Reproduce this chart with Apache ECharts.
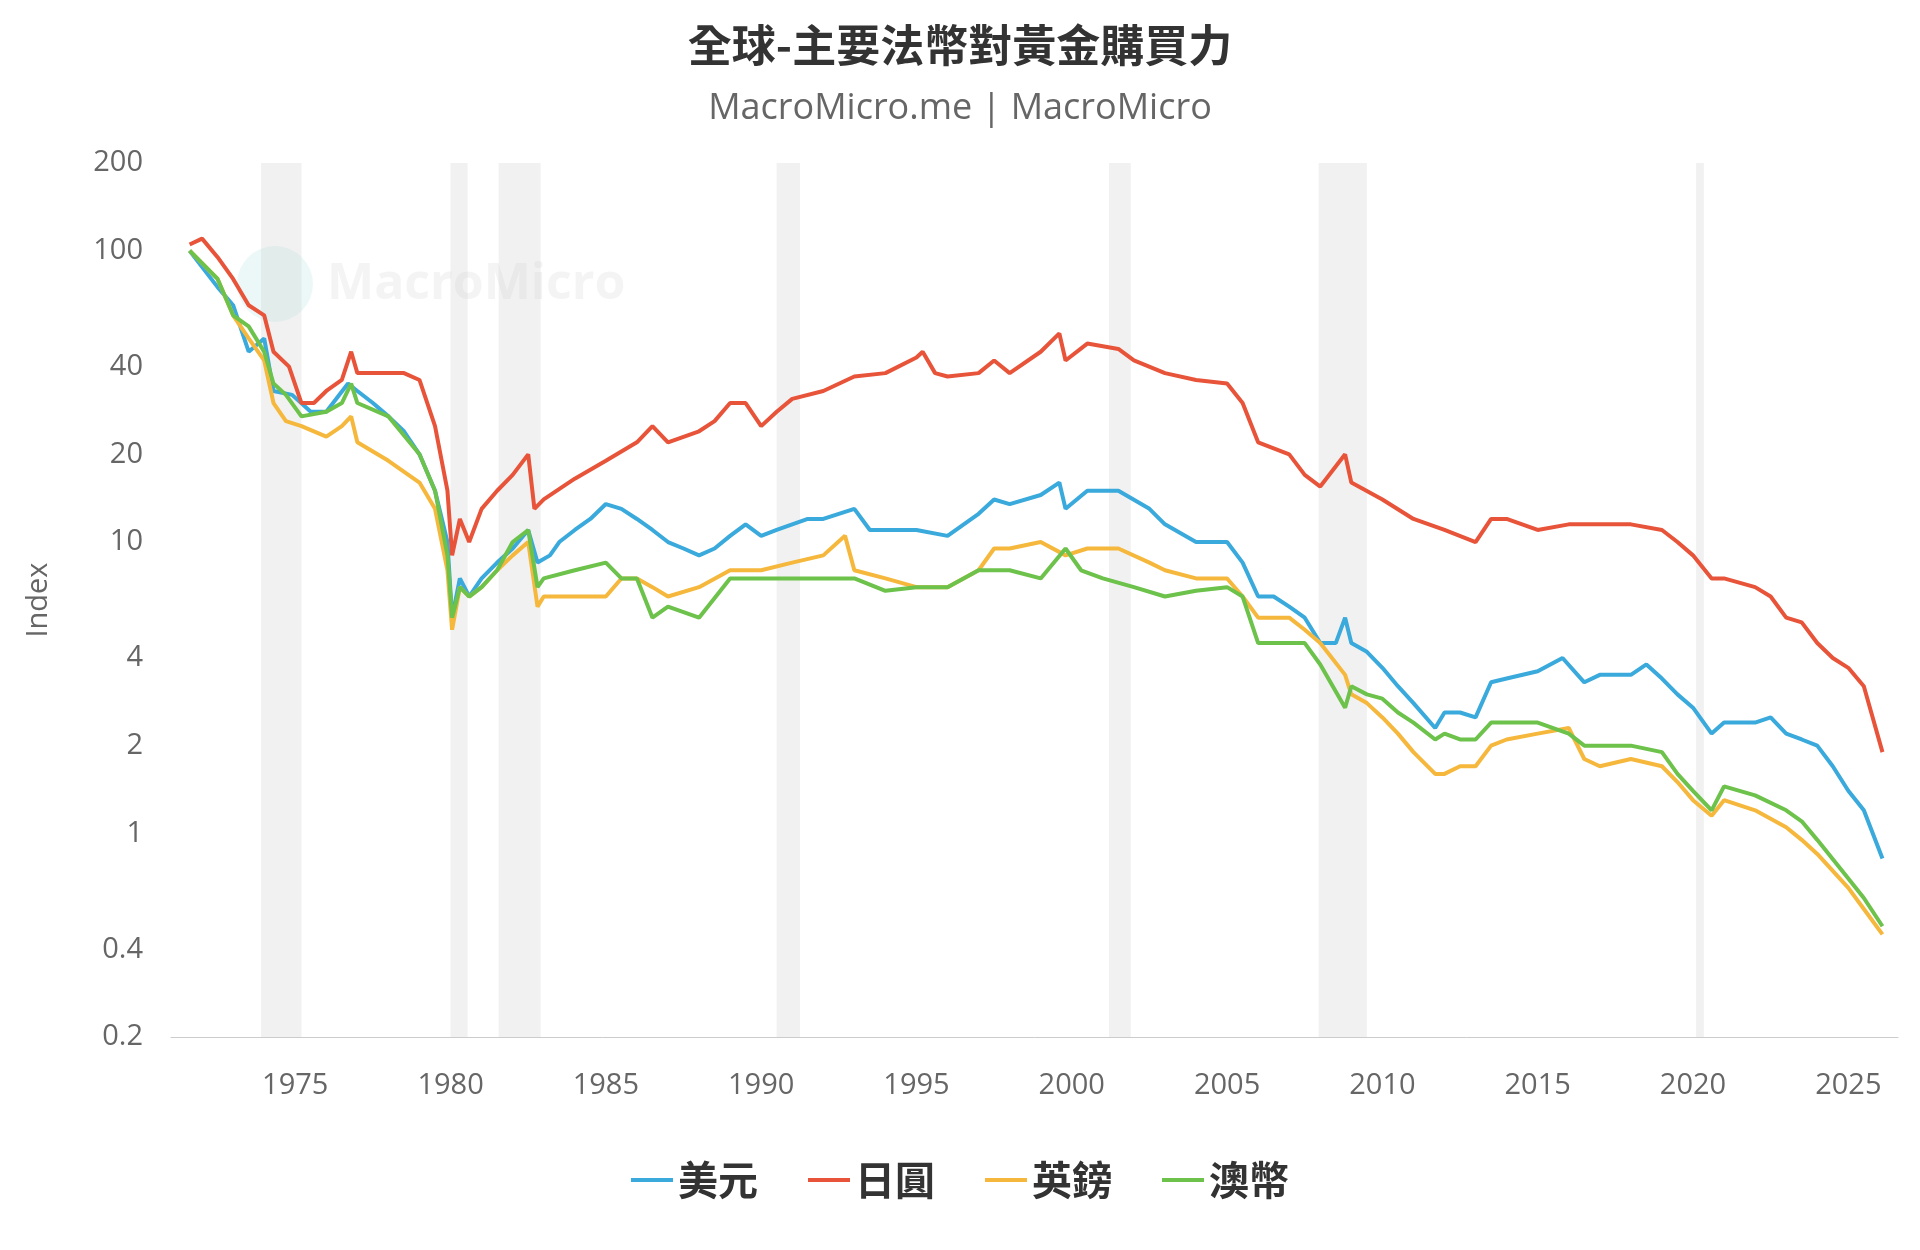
<!DOCTYPE html>
<html><head><meta charset="utf-8">
<script src="https://cdn.jsdelivr.net/npm/echarts@6/dist/echarts.min.js"></script>
<style>html,body{margin:0;padding:0;background:#fff}#c{width:1920px;height:1250px}</style>
</head><body><div id="c"></div>
<script>
const usd=[[1971.6,100],[1972.5,75],[1973.0,65],[1973.5,45],[1974.0,50],[1974.3,33],[1974.9,32],[1975.5,28],[1976.0,28],[1976.7,35],[1977.0,33],[1977.5,30],[1978.0,27],[1978.5,24],[1979.0,20],[1979.5,15],[1979.9,10],[1980.05,5.5],[1980.3,7.5],[1980.6,6.5],[1981.0,7.5],[1981.5,8.5],[1982.0,9.5],[1982.5,11],[1982.8,8.5],[1983.2,9],[1983.5,10],[1984.0,11],[1984.5,12],[1985.0,13.5],[1985.5,13],[1986.0,12],[1986.5,11],[1987.0,10],[1987.5,9.5],[1988.0,9],[1988.5,9.5],[1989.0,10.5],[1989.5,11.5],[1990.0,10.5],[1990.5,11],[1991.0,11.5],[1991.5,12],[1992.0,12],[1992.5,12.5],[1993.0,13],[1993.5,11],[1994.0,11],[1995,11],[1996,10.5],[1997,12.5],[1997.5,14],[1998,13.5],[1999,14.5],[1999.6,16],[1999.8,13],[2000.5,15],[2001.5,15],[2002.5,13],[2003,11.5],[2004,10],[2005,10],[2005.5,8.5],[2006,6.5],[2006.5,6.5],[2007,6],[2007.5,5.5],[2008,4.5],[2008.5,4.5],[2008.8,5.5],[2009,4.5],[2009.5,4.2],[2010,3.7],[2010.5,3.2],[2011,2.8],[2011.7,2.3],[2012,2.6],[2012.5,2.6],[2013,2.5],[2013.5,3.3],[2014,3.4],[2015,3.6],[2015.8,4],[2016.5,3.3],[2017,3.5],[2018,3.5],[2018.5,3.8],[2019,3.4],[2019.5,3.0],[2020,2.7],[2020.6,2.2],[2021,2.4],[2022,2.4],[2022.5,2.5],[2023,2.2],[2023.5,2.1],[2024,2.0],[2024.5,1.7],[2025,1.4],[2025.5,1.2],[2026.1,0.82]];
const jpy=[[1971.6,105],[1972,110],[1972.5,95],[1973,80],[1973.5,65],[1974,60],[1974.3,45],[1974.8,40],[1975.2,30],[1975.6,30],[1976,33],[1976.5,36],[1976.8,45],[1977,38],[1978,38],[1978.5,38],[1979,36],[1979.5,25],[1979.9,15],[1980.05,9],[1980.3,12],[1980.6,10],[1981,13],[1981.5,15],[1982,17],[1982.5,20],[1982.7,13],[1983,14],[1984,16.5],[1985,19],[1986,22],[1986.5,25],[1987,22],[1988,24],[1988.5,26],[1989,30],[1989.5,30],[1990,25],[1990.5,28],[1991,31],[1992,33],[1993,37],[1994,38],[1995,43],[1995.2,45],[1995.6,38],[1996,37],[1997,38],[1997.5,42],[1998,38],[1999,45],[1999.6,52],[1999.8,42],[2000.5,48],[2001.5,46],[2002,42],[2003,38],[2004,36],[2005,35],[2005.5,30],[2006,22],[2007,20],[2007.5,17],[2008,15.5],[2008.8,20],[2009,16],[2010,14],[2011,12],[2012,11],[2013,10],[2013.5,12],[2014,12],[2015,11],[2016,11.5],[2017,11.5],[2018,11.5],[2019,11],[2019.5,10],[2020,9],[2020.6,7.5],[2021,7.5],[2022,7],[2022.5,6.5],[2023,5.5],[2023.5,5.3],[2024,4.5],[2024.5,4],[2025,3.7],[2025.5,3.2],[2026.1,1.9]];
const gbp=[[1971.6,100],[1972.5,80],[1973,60],[1973.5,50],[1974,42],[1974.3,30],[1974.7,26],[1975.2,25],[1976,23],[1976.5,25],[1976.8,27],[1977,22],[1978,19],[1979,16],[1979.5,13],[1979.9,8],[1980.05,5],[1980.3,7],[1980.6,6.5],[1981,7],[1981.5,8],[1982,9],[1982.5,10],[1982.8,6],[1983,6.5],[1984,6.5],[1985,6.5],[1985.5,7.5],[1986,7.5],[1986.5,7],[1987,6.5],[1988,7],[1989,8],[1990,8],[1991,8.5],[1992,9],[1992.7,10.5],[1993,8],[1994,7.5],[1995,7],[1996,7],[1997,8],[1997.5,9.5],[1998,9.5],[1999,10],[1999.8,9],[2000.5,9.5],[2001.5,9.5],[2002.5,8.5],[2003,8],[2004,7.5],[2005,7.5],[2005.5,6.5],[2006,5.5],[2007,5.5],[2007.5,5],[2008,4.5],[2008.8,3.5],[2009,3],[2009.5,2.8],[2010,2.5],[2010.5,2.2],[2011,1.9],[2011.7,1.6],[2012,1.6],[2012.5,1.7],[2013,1.7],[2013.5,2.0],[2014,2.1],[2015,2.2],[2016,2.3],[2016.5,1.8],[2017,1.7],[2018,1.8],[2019,1.7],[2019.5,1.5],[2020,1.3],[2020.6,1.15],[2021,1.3],[2022,1.2],[2023,1.05],[2023.5,0.95],[2024,0.85],[2025,0.65],[2025.5,0.55],[2026.1,0.45]];
const aud=[[1971.6,100],[1972.5,80],[1973,60],[1973.5,55],[1974,45],[1974.3,35],[1974.7,32],[1975.2,27],[1976,28],[1976.5,30],[1976.8,35],[1977,30],[1978,27],[1979,20],[1979.5,15],[1979.9,9],[1980.05,5.5],[1980.3,7],[1980.6,6.5],[1981,7],[1981.5,8],[1982,10],[1982.5,11],[1982.8,7],[1983,7.5],[1984,8],[1985,8.5],[1985.5,7.5],[1986,7.5],[1986.5,5.5],[1987,6],[1988,5.5],[1989,7.5],[1990,7.5],[1991,7.5],[1992,7.5],[1993,7.5],[1994,6.8],[1995,7],[1996,7],[1997,8],[1998,8],[1999,7.5],[1999.8,9.5],[2000.3,8],[2001,7.5],[2002,7],[2003,6.5],[2004,6.8],[2005,7],[2005.5,6.5],[2006,4.5],[2007,4.5],[2007.5,4.5],[2008,3.8],[2008.8,2.7],[2009,3.2],[2009.5,3],[2010,2.9],[2010.5,2.6],[2011,2.4],[2011.7,2.1],[2012,2.2],[2012.5,2.1],[2013,2.1],[2013.5,2.4],[2014,2.4],[2015,2.4],[2016,2.2],[2016.5,2.0],[2017,2.0],[2018,2.0],[2019,1.9],[2019.5,1.6],[2020,1.4],[2020.6,1.2],[2021,1.45],[2022,1.35],[2023,1.2],[2023.5,1.1],[2024,0.95],[2025,0.7],[2025.5,0.6],[2026.1,0.48]];
const recessions=[[1973.9,1975.2],[1980.0,1980.55],[1981.55,1982.9],[1990.5,1991.25],[2001.2,2001.9],[2007.95,2009.5],[2020.1,2020.35]];
const yTicks=[0.2,0.4,1,2,4,10,20,40,100,200];
const xTicks=[1975,1980,1985,1990,1995,2000,2005,2010,2015,2020,2025];
const names=['美元','日圓','英鎊','澳幣'];
const colors=['#3aa9db','#e8543a','#f5b83d','#6cc24a'];

const L=v=>Math.log10(v);
const tr=a=>a.map(p=>[p[0],L(p[1])]);
const fmt=v=>{const r=Math.pow(10,v);const t=yTicks.find(k=>Math.abs(k-r)/k<1e-6);return t===undefined?'':String(t);};
const ch=echarts.init(document.getElementById('c'));
const font='"Noto Sans CJK TC","Open Sans",sans-serif';
const series=[usd,jpy,gbp,aud].map((d,i)=>({name:names[i],type:'line',data:tr(d),showSymbol:false,symbol:'none',lineStyle:{width:4,color:colors[i]},itemStyle:{color:colors[i]},z:3+i}));
series[0].markArea={silent:true,itemStyle:{color:'rgba(200,200,200,0.25)'},data:recessions.map(r=>[{xAxis:r[0]},{xAxis:r[1]}])};
ch.setOption({
 animation:false,
 textStyle:{fontFamily:font},
 title:[{text:'全球-主要法幣對黃金購買力',left:'center',top:18,textStyle:{fontSize:44,fontWeight:'bold',color:'#333',fontFamily:font}},
        {text:'MacroMicro.me | MacroMicro',left:'center',top:86,textStyle:{fontSize:36,fontWeight:'normal',color:'#666',fontFamily:'"Open Sans",sans-serif'}}],
 graphic:[{type:'circle',shape:{cx:275,cy:284,r:38},style:{fill:'rgba(120,210,200,0.15)'}},
          {type:'text',left:327,top:260,style:{text:'MacroMicro',fontSize:50,fontWeight:'bold',fill:'rgba(180,180,180,0.15)',fontFamily:'"Open Sans",sans-serif'}}],
 legend:{bottom:45,left:'center',itemWidth:42,itemHeight:4,itemGap:50,icon:'rect',textStyle:{fontSize:40,fontWeight:'bold',color:'#333',fontFamily:font},data:names},
 grid:{left:171,right:22,top:163,bottom:213},
 xAxis:{type:'value',min:1971,max:2026.6,splitLine:{show:false},
   axisLine:{onZero:false,lineStyle:{color:'#ccc'}},axisTick:{show:false},
   axisLabel:{customValues:xTicks,formatter:v=>String(v),fontSize:29,color:'#666',margin:34,fontFamily:'"Open Sans",sans-serif'}},
 yAxis:{type:'value',min:L(0.2),max:L(200),name:'Index',nameLocation:'middle',nameGap:118,nameTextStyle:{fontSize:29,color:'#666',fontFamily:'"Open Sans",sans-serif'},
   splitLine:{show:false},axisLine:{show:false},axisTick:{show:false},
   axisLabel:{customValues:yTicks.map(L),formatter:fmt,fontSize:29,color:'#666',margin:28,fontFamily:'"Open Sans",sans-serif'}},
 series:series
});
</script></body></html>
